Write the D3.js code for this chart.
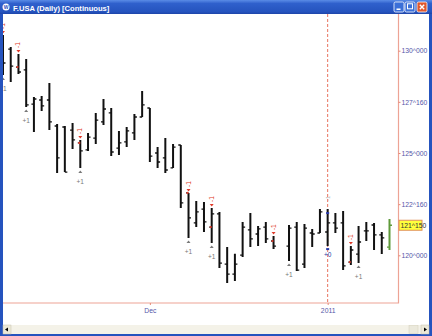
<!DOCTYPE html>
<html>
<head>
<meta charset="utf-8">
<script src="https://cdn.jsdelivr.net/npm/d3@7"></script>
<style>
  body { margin: 0; background: #fff; }
  svg { display: block; font-family: "Liberation Sans", "DejaVu Sans", sans-serif; }
</style>
</head>
<body>
<svg id="chart"></svg>
<script>
// trading days shown (weekdays), and the one day with no bar
const closedDays = ["2010-12-24"];
const firstDay = "2010-11-04", lastDay = "2011-01-13";

// OHLC values, one entry per bar
const opens  = [130.28,130.08,129.20,129.06,127.39,127.59,127.59,126.32,126.27,126.12,125.49,125.15,125.73,126.52,126.96,125.24,125.54,125.98,126.76,127.20,
                125.00,124.76,124.27,125.39,123.05,121.58,122.26,121.38,122.02,119.57,119.08,120.01,121.24,121.04,121.38,120.70,
                120.45,121.38,119.57,121.09,121.09,121.14,121.58,121.58,119.67,120.06,121.19,121.48,121.00,120.40];
const highs  = [130.77,130.18,129.84,129.59,127.74,127.79,128.42,126.42,126.32,126.47,125.64,125.98,126.96,127.64,127.20,126.08,126.27,126.91,128.03,127.20,
                125.29,125.73,125.44,125.39,123.05,122.65,122.61,122.31,122.12,120.41,120.07,121.63,122.07,121.43,121.63,120.94,
                121.48,121.63,121.53,121.29,122.26,122.26,122.07,122.16,120.45,121.43,121.63,121.58,121.14,121.78];
const lows   = [128.81,128.47,128.86,127.25,126.03,127.05,126.12,124.02,124.07,125.20,124.27,125.10,125.44,126.37,124.85,124.90,125.29,125.64,126.76,124.56,
                124.27,124.02,124.27,122.31,120.85,121.38,121.14,120.60,119.38,118.65,118.74,119.92,120.41,120.45,120.60,120.31,
                119.72,119.23,119.38,120.41,121.09,120.45,121.09,119.28,119.53,119.62,120.70,120.26,120.06,120.26];
const closes = [129.40,129.25,128.96,127.35,127.64,127.30,126.52,124.76,124.07,125.64,125.10,125.78,126.61,127.15,125.05,125.49,126.08,126.76,127.35,124.85,
                124.56,124.17,125.29,122.56,121.83,122.12,121.63,122.02,119.62,119.08,119.57,121.38,120.80,121.29,120.80,120.45,
                121.33,119.28,121.33,121.04,122.12,121.58,121.33,119.48,120.26,120.65,121.19,121.00,120.85,121.46875];

// trade signal marks
const sellDays = ["2010-11-04","2010-11-08","2010-11-18","2010-12-08","2010-12-13","2010-12-23","2011-01-06"];
const buyDays  = ["2010-11-04","2010-11-09","2010-11-18","2010-12-08","2010-12-13","2010-12-27","2011-01-07"];
const rollDay  = "2011-01-03";

// axis ticks
const priceTicks = [120, 122.5, 125, 127.5, 130];
const dateTicks = ["2010-12-01", "2011-01-03"];
const dateTickLabels = ["Dec", "2011"];

const W = 432, H = 336;
const plot = { left: 3, right: 398.5, top: 14, bottom: 303 };

const fmtDay = d3.timeFormat("%Y-%m-%d");
const parseDay = d3.timeParse("%Y-%m-%d");
const slots = d3.timeDay.range(parseDay(firstDay), d3.timeDay.offset(parseDay(lastDay), 1))
  .filter(d => d.getDay() % 6 !== 0)
  .map(fmtDay);
const barDays = slots.filter(d => !closedDays.includes(d));

const bars = barDays.map((d, i) => ({ date: d, o: opens[i], h: highs[i], l: lows[i], c: closes[i] }));
const byDate = new Map(bars.map(b => [b.date, b]));

// price in 32nds, e.g. 127^160
const fmt32 = v => {
  const whole = Math.floor(v);
  return whole + "^" + String(Math.round((v - whole) * 320)).padStart(3, "0");
};

const svg = d3.select("#chart").attr("width", W).attr("height", H);

const x = d3.scalePoint().domain(slots).range([3, 389.5]);
const y = d3.scaleLinear().domain([120, 130]).range([255.3, 50.7]);

// ---- window chrome ----
const defs = svg.append("defs");
const tg = defs.append("linearGradient").attr("id", "titleGrad").attr("x1", 0).attr("y1", 0).attr("x2", 0).attr("y2", 1);
tg.append("stop").attr("offset", "0%").attr("stop-color", "#5a8ce6");
tg.append("stop").attr("offset", "25%").attr("stop-color", "#2f60cc");
tg.append("stop").attr("offset", "85%").attr("stop-color", "#2553be");
tg.append("stop").attr("offset", "100%").attr("stop-color", "#1d44a8");

svg.append("rect").attr("width", W).attr("height", H).attr("fill", "#2553be");
svg.append("rect").attr("width", W).attr("height", 14).attr("fill", "url(#titleGrad)");
svg.append("rect").attr("x", 3).attr("y", 14).attr("width", W - 6).attr("height", 319).attr("fill", "#fff");

// title icon + text
svg.append("circle").attr("cx", 6).attr("cy", 7).attr("r", 3.5).attr("fill", "#fff");
svg.append("text").attr("x", 6).attr("y", 9).attr("text-anchor", "middle")
  .style("font-size", "5px").style("font-weight", "bold").attr("fill", "#2553be").text("W");
svg.append("text").attr("x", 13).attr("y", 10.5)
  .style("font-size", "7.6px").style("font-weight", "bold").attr("fill", "#fff")
  .text("F.USA (Daily) [Continuous]");

// title buttons
[[394, "#3a6fd8", "min"], [405, "#3a6fd8", "max"], [417, "#e0582e", "close"]].forEach(([bx, col, kind]) => {
  svg.append("rect").attr("x", bx).attr("y", 2).attr("width", 10).attr("height", 10).attr("rx", 1.5)
    .attr("fill", col).attr("stroke", "#fff").attr("stroke-width", 0.8);
  if (kind === "min") svg.append("rect").attr("x", bx + 2.5).attr("y", 8.5).attr("width", 4).attr("height", 1.5).attr("fill", "#fff");
  if (kind === "max") svg.append("rect").attr("x", bx + 2.5).attr("y", 3.8).attr("width", 5).attr("height", 5)
    .attr("fill", "none").attr("stroke", "#fff").attr("stroke-width", 1);
  if (kind === "close") svg.append("path").attr("d", `M${bx + 2.8},4.8L${bx + 7.2},9.2M${bx + 7.2},4.8L${bx + 2.8},9.2`)
    .attr("stroke", "#fff").attr("stroke-width", 1.4);
});

// scrollbar
svg.append("rect").attr("x", 3).attr("y", 325).attr("width", W - 6).attr("height", 9).attr("fill", "#f4f2e8");
svg.append("rect").attr("x", 3).attr("y", 325).attr("width", 8).attr("height", 9).attr("fill", "#ece9d8").attr("stroke", "#c8c4b0").attr("stroke-width", 0.5);
svg.append("path").attr("d", "M5,329.5L8,327.5L8,331.5Z").attr("fill", "#000");
svg.append("rect").attr("x", 409).attr("y", 325.5).attr("width", 9).attr("height", 8).attr("fill", "#ebe9dc").attr("stroke", "#d4d0bc").attr("stroke-width", 0.5);
svg.append("rect").attr("x", 421).attr("y", 325).attr("width", 8).attr("height", 9).attr("fill", "#ece9d8").attr("stroke", "#c8c4b0").attr("stroke-width", 0.5);
svg.append("path").attr("d", "M427,329.5L424,327.5L424,331.5Z").attr("fill", "#000");

// ---- chart ----
defs.append("clipPath").attr("id", "plotClip").append("rect")
  .attr("x", plot.left).attr("y", plot.top).attr("width", plot.right - plot.left).attr("height", plot.bottom - plot.top);

const g = svg.append("g").attr("clip-path", "url(#plotClip)");

// rollover line
g.append("line")
  .attr("x1", x(rollDay)).attr("x2", x(rollDay)).attr("y1", plot.top).attr("y2", plot.bottom)
  .attr("stroke", "#e8735e").attr("stroke-width", 1).attr("stroke-dasharray", "3,2");

// OHLC bars
const bar = g.selectAll(".bar").data(bars).enter().append("g").attr("class", "bar")
  .attr("stroke", (d, i) => i === bars.length - 1 ? "#5f9a3a" : "#111");
bar.append("line").attr("x1", d => x(d.date)).attr("x2", d => x(d.date))
  .attr("y1", d => y(d.h)).attr("y2", d => y(d.l)).attr("stroke-width", 2);
bar.append("line").attr("x1", d => x(d.date) - 2.5).attr("x2", d => x(d.date))
  .attr("y1", d => y(d.o)).attr("y2", d => y(d.o)).attr("stroke-width", 1.3);
bar.append("line").attr("x1", d => x(d.date)).attr("x2", d => x(d.date) + 2.5)
  .attr("y1", d => y(d.c)).attr("y2", d => y(d.c)).attr("stroke-width", 1.3);

// sell signals (red, above bar)
sellDays.forEach(d => {
  const b = byDate.get(d);
  const cx = x(d), top = y(b.h);
  g.append("path").attr("d", `M${cx - 2},${top - 4}L${cx + 2},${top - 4}L${cx},${top - 1.5}Z`).attr("fill", "#e03a2a");
  g.append("text").attr("transform", `translate(${cx + 2},${top - 6}) rotate(-90)`)
    .style("font-size", "6.5px").attr("fill", "#e03a2a").text("-1");
  g.append("circle").attr("cx", cx - 1).attr("cy", y(b.o)).attr("r", 1.1).attr("fill", "#e03a2a");
});

// buy signals (grey, below bar)
buyDays.forEach(d => {
  const b = byDate.get(d);
  const cx = x(d), bot = y(b.l);
  g.append("path").attr("d", `M${cx - 2},${bot + 5}L${cx + 2},${bot + 5}L${cx},${bot + 2.5}Z`).attr("fill", "#777");
  g.append("text").attr("x", cx).attr("y", bot + 16).attr("text-anchor", "middle")
    .style("font-size", "6.5px").attr("fill", "#777").text("+1");
});

// roll day marks (blue)
{
  const b = byDate.get(rollDay);
  const cx = x(rollDay);
  g.append("rect").attr("x", cx - 1.5).attr("y", y(b.h) + 3).attr("width", 3).attr("height", 2).attr("fill", "#2a3aa8");
  g.append("rect").attr("x", cx - 1.5).attr("y", y(b.l) + 2).attr("width", 3).attr("height", 2).attr("fill", "#2a3aa8");
  g.append("text").attr("x", cx).attr("y", y(b.l) + 11).attr("text-anchor", "middle")
    .style("font-size", "6.5px").attr("fill", "#2a3aa8").text("+0");
  g.append("text").attr("transform", `translate(${cx + 2},${y(b.h) - 8}) rotate(-90)`)
    .style("font-size", "6px").attr("fill", "#b8b8b8").text("-1");
}

// plot border
svg.append("path")
  .attr("d", `M${plot.left},${plot.bottom}H${plot.right}V${plot.top}`)
  .attr("fill", "none").attr("stroke", "#eda395").attr("stroke-width", 1.2);

// price axis
const yAxis = svg.append("g").attr("transform", `translate(${plot.right},0)`)
  .call(d3.axisRight(y).tickValues(priceTicks).tickFormat(fmt32).tickSize(2).tickPadding(1));
yAxis.select(".domain").remove();
yAxis.selectAll(".tick line").attr("stroke", "#e58a78");
yAxis.selectAll(".tick text").attr("fill", "#5656a8").style("font-size", "6.8px");

// date axis
const xAxis = svg.append("g").attr("transform", `translate(0,${plot.bottom})`)
  .call(d3.axisBottom(x).tickValues(dateTicks).tickFormat(d => dateTickLabels[dateTicks.indexOf(d)]).tickSize(2).tickPadding(3));
xAxis.select(".domain").remove();
xAxis.selectAll(".tick line").attr("stroke", "#e58a78");
xAxis.selectAll(".tick text").attr("fill", "#5656a8").style("font-size", "6.8px");

// last price tag
const last = bars[bars.length - 1].c;
svg.append("rect").attr("x", 399).attr("y", y(last) - 5).attr("width", 23).attr("height", 10)
  .attr("fill", "#ffff3c").attr("stroke", "#e0905a").attr("stroke-width", 1);
svg.append("text").attr("x", 400.5).attr("y", y(last) + 2.5)
  .style("font-size", "6.8px").attr("fill", "#333").text(fmt32(last));
</script>
</body>
</html>
